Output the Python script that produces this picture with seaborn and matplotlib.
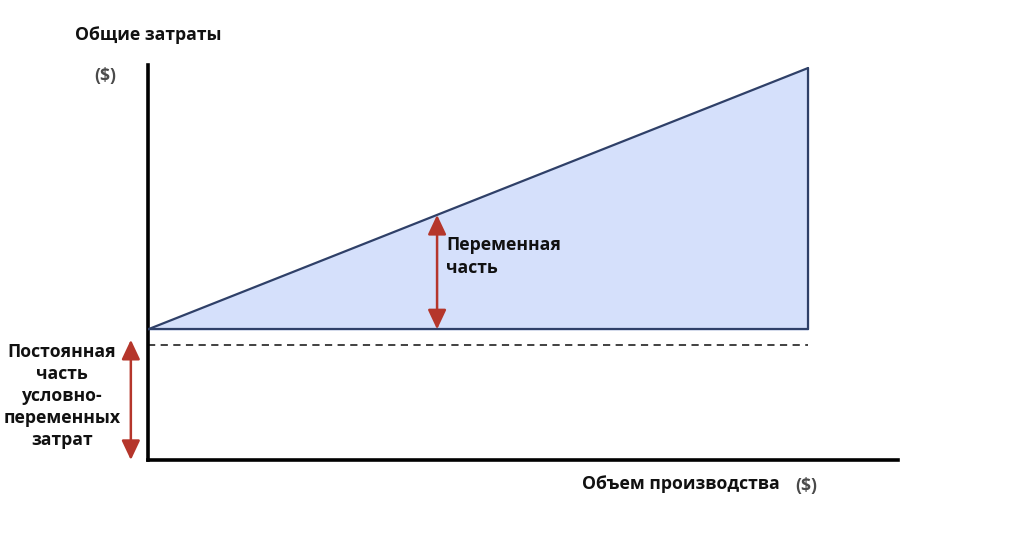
import matplotlib
matplotlib.use("Agg")
import matplotlib.pyplot as plt
import seaborn as sns
import numpy as np
import pandas as pd

# ---- data (abstract units) ----
volume = [0, 10]
fixed_cost = [5, 5]
total_cost = [5, 15]
dashed_level = [4.4, 4.4]
arrow_var_x = 4.38
arrow_fix_x = -0.26
arrow_fix_top = 4.6

y_title = "Общие затраты"
x_title = "Объем производства"
unit = "($)"
var_label = "Переменная\nчасть"
fix_label = "Постоянная\nчасть\nусловно-\nпеременных\nзатрат"

sns.set_theme(style="white")
plt.rcParams['font.family'] = ['Open Sans', 'DejaVu Sans']

W, H = 1024, 549
fig = plt.figure(figsize=(W / 100, H / 100), dpi=100)
x0, y0 = 148, 460
xmax, ymax = 11.36, 15.1
pxx, pxy = 66.0, 26.13
ax = fig.add_axes([x0 / W, (H - y0) / H, xmax * pxx / W, ymax * pxy / H])
ax.set_xlim(0, xmax)
ax.set_ylim(0, ymax)
ax.set_xticks([])
ax.set_yticks([])
for s in ["top", "right"]:
    ax.spines[s].set_visible(False)
for s in ["left", "bottom"]:
    ax.spines[s].set_color("black")
    ax.spines[s].set_linewidth(2.6)

line_col = "#2f4068"
df = pd.DataFrame({"volume": volume, "fixed": fixed_cost, "total": total_cost})
ax.fill_between(df["volume"], df["fixed"], df["total"], color="#d5e0fb", zorder=1)
sns.lineplot(data=df, x="volume", y="total", ax=ax, color=line_col, lw=1.6, zorder=3)
sns.lineplot(data=df, x="volume", y="fixed", ax=ax, color=line_col, lw=1.6, zorder=3)
ax.plot([volume[-1], volume[-1]], [fixed_cost[-1], total_cost[-1]], color=line_col, lw=1.6, zorder=3)
ax.plot(volume, dashed_level, color="#333333", lw=1.3, ls=(0, (4, 3)), zorder=2)
ax.set_xlabel("")
ax.set_ylabel("")

arrow_col = "#b5362b"
astyle = "<|-|>,head_length=0.85,head_width=0.4"
slope = (total_cost[1] - total_cost[0]) / (volume[1] - volume[0])
var_top = total_cost[0] + slope * arrow_var_x
ax.annotate("", xy=(arrow_var_x, var_top), xytext=(arrow_var_x, fixed_cost[0]),
            arrowprops=dict(arrowstyle=astyle, color=arrow_col, lw=1.8,
                            mutation_scale=14, shrinkA=0, shrinkB=0), zorder=4)
ax.annotate("", xy=(arrow_fix_x, arrow_fix_top), xytext=(arrow_fix_x, 0),
            arrowprops=dict(arrowstyle=astyle, color=arrow_col, lw=1.8,
                            mutation_scale=14, shrinkA=0, shrinkB=0),
            annotation_clip=False, zorder=4)

fs = 12.7
tc = "#111111"
ax.text(arrow_var_x + 0.14, (var_top + fixed_cost[0]) / 2 + 0.6, var_label, ha="left", va="center",
        fontsize=fs, fontweight="bold", color=tc, linespacing=1.3)
fig.text(148 / W, 1 - 35 / H, y_title, ha="center", va="center", fontsize=fs,
         fontweight="bold", color=tc)
fig.text(105 / W, 1 - 76 / H, unit, ha="center", va="center", fontsize=fs,
         fontweight="bold", color="#4a4a4a")
fig.text(62 / W, 1 - 396 / H, fix_label, ha="center", va="center", fontsize=fs,
         fontweight="bold", color=tc, linespacing=1.3)
fig.text(780 / W, 1 - 484 / H, x_title, ha="right", va="center", fontsize=fs,
         fontweight="bold", color=tc)
fig.text(806 / W, 1 - 486 / H, unit, ha="center", va="center", fontsize=fs,
         fontweight="bold", color="#4a4a4a")

fig.savefig("out.png", dpi=100, facecolor="white")
